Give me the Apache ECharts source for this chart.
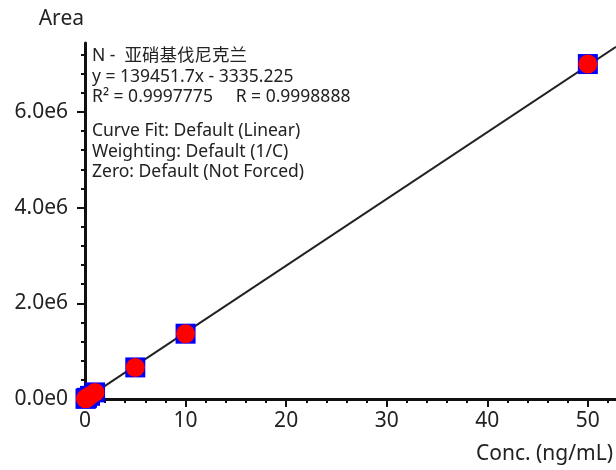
<!DOCTYPE html>
<html><head><meta charset="utf-8">
<script src="https://cdn.jsdelivr.net/npm/echarts@6/dist/echarts.min.js"></script>
<style>html,body{margin:0;padding:0;background:#fff}#c{width:616px;height:470px}</style>
</head><body><div id="c"></div>
<script>
const conc = [0.05, 0.1, 0.2, 0.5, 1, 5, 10, 50];
const area = [4100, 11500, 25000, 66000, 138000, 660000, 1365000, 7000000];
const fitX = [0, 52.8];
const fitY = [-3335.225, 7359715];
const yTicks = [0, 2000000, 4000000, 6000000];
const xTicks = [0, 10, 20, 30, 40, 50];
const yTickLabels = ['0.0e0', '2.0e6', '4.0e6', '6.0e6'];
const infoLines1 = ['N -  亚硝基伐尼克兰', 'y = 139451.7x - 3335.225', 'R² = 0.9997775     R = 0.9998888'];
const infoLines2 = ['Curve Fit: Default (Linear)', 'Weighting: Default (1/C)', 'Zero: Default (Not Forced)'];

const FONT = '"Noto Sans", "Noto Sans CJK SC", sans-serif';
const pts = conc.map((c, i) => [c, area[i]]);
const chart = echarts.init(document.getElementById('c'), null, {renderer: 'canvas'});
chart.setOption({
  animation: false,
  grid: {left: 85, right: 0, top: 43, bottom: 71, containLabel: false},
  xAxis: {
    type: 'value', min: 0, max: 52.8, interval: 10,
    name: 'Conc. (ng/mL)', nameLocation: 'end', nameGap: 0,
    nameTextStyle: {fontFamily: FONT, fontSize: 21, color: '#222', align: 'right', verticalAlign: 'top', padding: [45, 3, 0, 0]},
    axisLine: {show: true, onZero: false, lineStyle: {color: '#111', width: 3}},
    axisTick: {show: true, length: 8, lineStyle: {color: '#111', width: 2}, customValues: xTicks},
    minorTick: {show: true, splitNumber: 5, length: 4, lineStyle: {color: '#111', width: 2}},
    axisLabel: {fontFamily: FONT, fontSize: 21, color: '#222', margin: 12, customValues: xTicks},
    splitLine: {show: false}
  },
  yAxis: {
    type: 'value', min: 0, max: 7440000, interval: 2000000,
    name: 'Area', nameLocation: 'end', nameGap: 13,
    nameTextStyle: {fontFamily: FONT, fontSize: 21, color: '#222', align: 'right', padding: [0, 1, 0, 0]},
    axisLine: {show: true, lineStyle: {color: '#111', width: 3}},
    axisTick: {show: true, length: 8, lineStyle: {color: '#111', width: 2}, customValues: yTicks},
    minorTick: {show: true, splitNumber: 5, length: 4, lineStyle: {color: '#111', width: 2}},
    axisLabel: {fontFamily: FONT, fontSize: 21, color: '#222', margin: 17, customValues: yTicks,
      formatter: v => yTickLabels[yTicks.indexOf(v)] || ''},
    splitLine: {show: false}
  },
  graphic: [
    {type: 'text', left: 92, top: 46, style: {text: infoLines1.join('\n'), font: '17.5px ' + FONT, fill: '#222', lineHeight: 20.5}},
    {type: 'text', left: 92, top: 121, style: {text: infoLines2.join('\n'), font: '17.5px ' + FONT, fill: '#222', lineHeight: 20.5}}
  ],
  series: [
    {type: 'line', data: fitX.map((x, i) => [x, fitY[i]]), showSymbol: false, symbol: 'none',
      lineStyle: {color: '#222', width: 2}, z: 3, clip: false},
    {type: 'scatter', data: pts, symbol: 'rect', symbolSize: 20, itemStyle: {color: '#0000ff', opacity: 1}, z: 4, clip: false},
    {type: 'scatter', data: pts, symbol: 'circle', symbolSize: 19, itemStyle: {color: '#ff0000', opacity: 1}, z: 5, clip: false}
  ]
});
</script></body></html>
